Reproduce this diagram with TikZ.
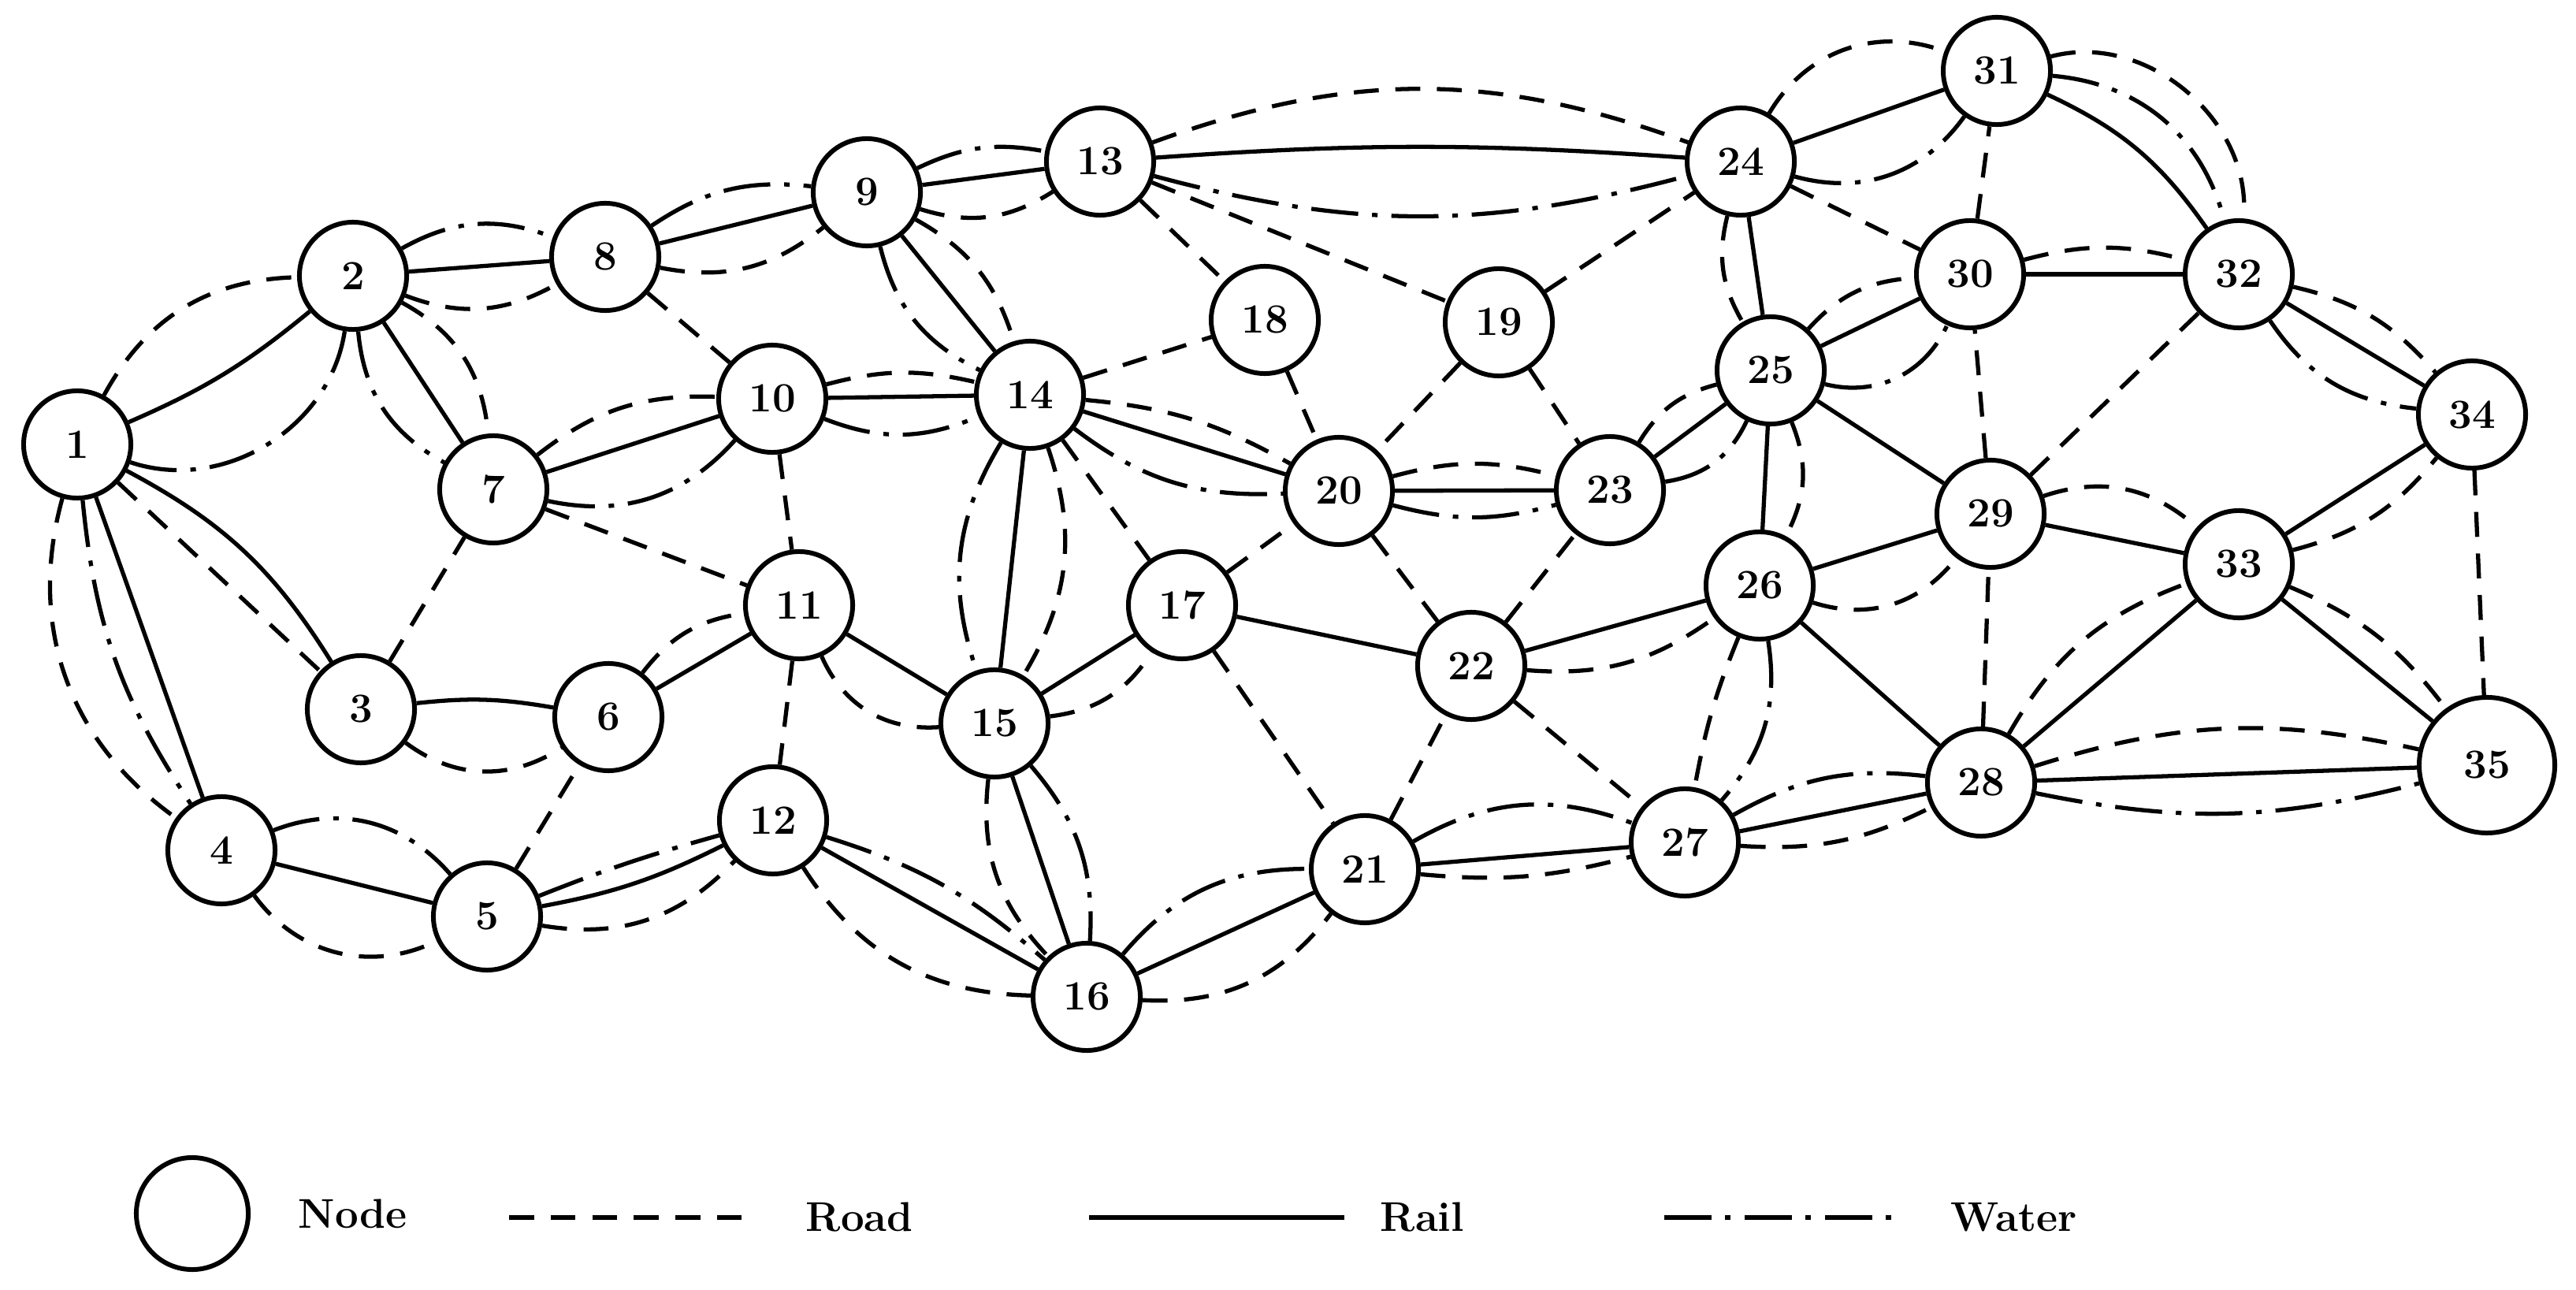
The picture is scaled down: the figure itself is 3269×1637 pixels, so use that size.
\documentclass[tikz,border=0pt]{standalone}
\usepackage{tikz}
\usetikzlibrary{positioning}

\tikzset{
  stn/.style={circle, draw, line width=1.7pt, fill=white, minimum size=1.36cm, inner sep=0pt, font=\fontsize{15}{17}\selectfont\bfseries},
  rail/.style={line width=1.5pt},
  road/.style={line width=1.5pt, dash pattern=on 9pt off 6pt},
  water/.style={line width=1.5pt, dash pattern=on 17pt off 5pt on 2pt off 5pt},
  keytxt/.style={font=\fontsize{15}{18}\selectfont\bfseries, inner sep=0pt, anchor=west}
}

\begin{document}
\begin{tikzpicture}[x=0.01cm, y=-0.01cm]
  \useasboundingbox (0,0) rectangle (3269,1637);

  % stations
  \foreach \n/\px/\py in {1/98/564, 2/448/350, 3/458/900, 4/281/1079, 5/618/1163, 6/772/910, 7/626/621,
      8/768/326, 9/1100/244, 10/980/506, 11/1014/768, 12/981/1041, 13/1396/205, 14/1307/501,
      15/1262/918, 16/1379/1265, 17/1500/768, 18/1605/406, 19/1902/409, 20/1699/623, 21/1732/1103,
      22/1867/845, 23/2043/622, 24/2209/205, 25/2247/470, 26/2233/743, 27/2138/1069, 28/2514/993,
      29/2526/652, 30/2500/348, 31/2534/90, 32/2841/348, 33/2841/716, 34/3137/526}
    \node[stn] (n\n) at (\px,\py) {\n};
  \node[stn, minimum size=1.72cm] (n35) at (3156,971) {35};

  % rail
  \foreach \p/\q in {1/4, 2/7, 2/8, 4/5, 6/11, 7/10, 8/9, 9/13, 9/14, 10/14, 11/15, 12/16, 14/15,
      14/20, 15/16, 15/17, 16/21, 17/22, 20/23, 21/27, 22/26, 23/25, 24/25, 24/31, 25/26, 25/29,
      25/30, 26/28, 26/29, 27/28, 28/33, 28/35, 29/33, 30/32, 32/34, 33/34, 33/35}
    \draw[rail] (n\p) -- (n\q);
  \foreach \p/\q/\k in {1/2/-8, 1/3/15, 3/6/8, 5/12/-8, 13/24/4, 31/32/15}
    \draw[rail] (n\p) to[bend left=\k] (n\q);

  % road
  \foreach \p/\q in {1/3, 3/7, 5/6, 7/11, 8/10, 10/11, 11/12, 13/18, 13/19, 14/17, 14/18, 17/20,
      17/21, 18/20, 19/20, 19/23, 19/24, 20/22, 21/22, 22/23, 22/27, 24/30, 28/29, 29/30,
      29/32, 30/31, 34/35}
    \draw[road] (n\p) -- (n\q);
  \foreach \p/\q/\k in {1/2/30, 1/4/-35, 2/7/28, 2/8/-25, 3/6/-35, 4/5/-40, 5/12/-28, 6/11/22,
      7/10/20, 8/9/-25, 9/13/-25, 9/14/22, 10/14/14, 11/15/-35, 12/16/-28, 13/24/20, 14/15/25,
      14/20/12, 15/16/-25, 15/17/-25, 16/21/-28, 20/23/15, 21/27/-10, 22/26/-20, 23/25/22,
      24/25/-22, 24/31/40, 25/26/25, 25/30/22, 26/27/-6, 26/29/-35, 27/28/-15, 28/33/20, 28/35/15,
      29/33/30, 30/32/15, 31/32/55, 32/34/18, 33/34/-18, 33/35/15}
    \draw[road] (n\p) to[bend left=\k] (n\q);

  % water
  \foreach \p/\q/\k in {1/2/-50, 1/4/-14, 2/7/-28, 2/8/25, 4/5/35, 5/12/3, 7/10/-30, 8/9/20,
      9/13/18, 9/14/-25, 10/14/-22, 12/16/12, 13/24/-15, 14/15/-25, 14/20/-20, 15/16/22,
      16/21/25, 20/23/-15, 21/27/25, 23/25/-28, 24/31/-35, 25/30/-40, 26/27/25, 27/28/18,
      28/35/-13, 31/32/35, 32/34/-25}
    \draw[water] (n\p) to[bend left=\k] (n\q);

  % key
  \node[stn, minimum size=1.42cm] (keynode) at (244,1540) {};
  \node[keytxt, right=0.6cm of keynode] (keynodetxt) {Node};
  \coordinate (roadl) at (646,1545);
  \coordinate (roadr) at (959,1545);
  \draw[road] (roadl) -- (roadr);
  \node[keytxt, right=0.63cm of roadr] (roadtxt) {Road};
  \coordinate (raill) at (1382,1545);
  \coordinate (railr) at (1706,1545);
  \draw[rail] (raill) -- (railr);
  \node[keytxt, right=0.45cm of railr] (railtxt) {Rail};
  \coordinate (waterl) at (2112,1545);
  \coordinate (waterr) at (2414,1545);
  \draw[water] (waterl) -- (waterr);
  \node[keytxt, right=0.61cm of waterr] (watertxt) {Water};
\end{tikzpicture}
\end{document}
